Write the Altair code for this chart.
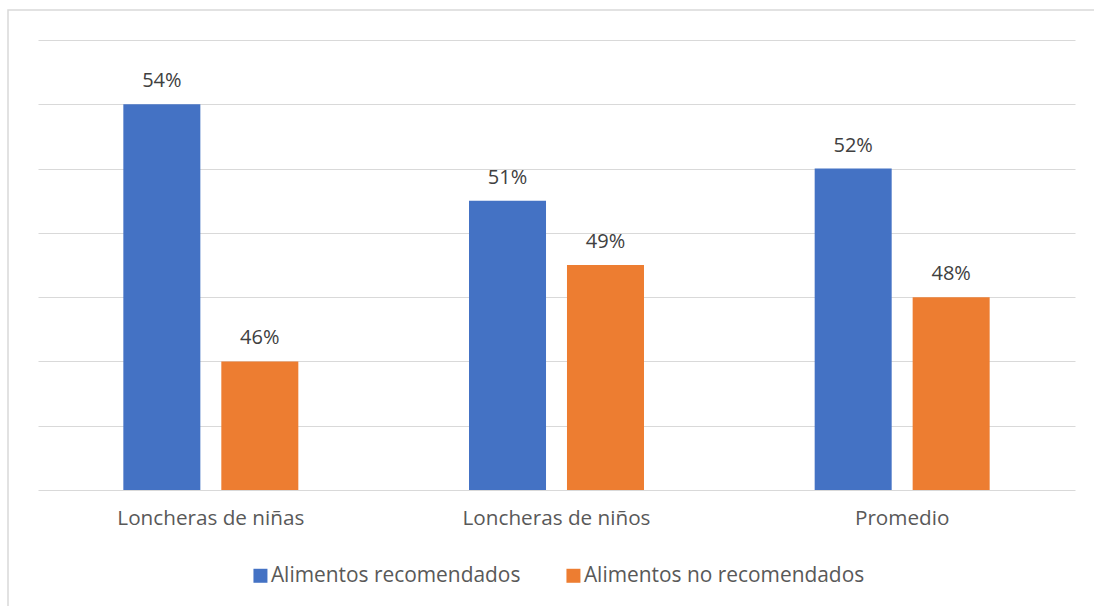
import altair as alt
import pandas as pd

# Values shown on the chart (percent)
categories = ["Loncheras de niñas", "Loncheras de niños", "Promedio"]
series = ["Alimentos recomendados", "Alimentos no recomendados"]
recomendados = [54, 51, 52]
no_recomendados = [46, 49, 48]
colors = ["#4472C4", "#ED7D31"]
y_ticks = [42, 44, 46, 48, 50, 52, 54, 56]

rows = []
for i, c in enumerate(categories):
    rows.append({"grupo": c, "serie": series[0], "valor": recomendados[i]})
    rows.append({"grupo": c, "serie": series[1], "valor": no_recomendados[i]})
df = pd.DataFrame(rows)
df["etiqueta"] = df["valor"].astype(str) + "%"

FONT = "Open Sans"
Y_MIN, Y_MAX = y_ticks[0], y_ticks[-1]

x = alt.X(
    "grupo:N",
    sort=categories,
    title=None,
    scale=alt.Scale(paddingInner=0, paddingOuter=0),
    axis=alt.Axis(
        labelAngle=0, ticks=False, domain=False, labelFontSize=20.7,
        labelColor="#595959", labelFont=FONT, labelPadding=18, labelLimit=0,
    ),
)
xo = alt.XOffset(
    "serie:N", sort=series,
    scale=alt.Scale(paddingInner=0.214, paddingOuter=0.871),
)
y = alt.Y(
    "valor:Q",
    scale=alt.Scale(domain=[Y_MIN, Y_MAX], zero=False, nice=False),
    axis=alt.Axis(
        values=y_ticks, labels=False, ticks=False, domain=False, title=None,
        grid=True, gridColor="#d9d9d9", gridWidth=1.2,
    ),
)

bars = alt.Chart(df).mark_bar().encode(
    x=x,
    xOffset=xo,
    y=y,
    y2=alt.datum(Y_MIN),
    color=alt.Color(
        "serie:N",
        sort=series,
        scale=alt.Scale(domain=series, range=colors),
        legend=alt.Legend(
            orient="none", legendX=212, legendY=525, direction="horizontal",
            title=None, symbolType="square", symbolSize=196,
            symbolStrokeWidth=0, symbolOpacity=1, labelFontSize=20.9,
            labelFont=FONT, labelColor="#595959", labelOffset=0,
            columnPadding=42, labelLimit=0,
        ),
    ),
)

labels = alt.Chart(df).mark_text(
    baseline="alphabetic", dy=-17, fontSize=20, color="#404040", font=FONT
).encode(x=x, xOffset=xo, y=y, text="etiqueta:N")

frame = alt.Chart(pd.DataFrame({"k": [0]})).mark_rect(
    fill="transparent", stroke="#d9d9d9", strokeWidth=1.5
).encode(
    x=alt.value(-30), x2=alt.value(1100), y=alt.value(-30), y2=alt.value(620)
)

chart = (
    alt.layer(frame, bars, labels)
    .properties(
        width=1037, height=450, autosize="none",
        padding={"left": 38, "top": 40, "right": 19, "bottom": 116},
        background="white",
    )
    .configure_view(strokeWidth=0)
)

chart.save("out.html", embed_options={"renderer": "svg", "actions": False})
